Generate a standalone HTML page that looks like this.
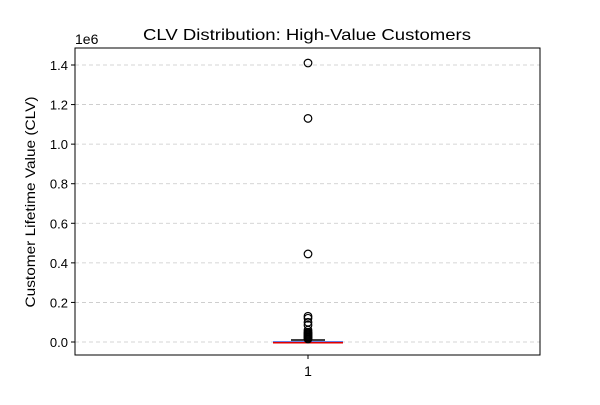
<!DOCTYPE html>
<html><head><meta charset="utf-8"><style>
body{margin:0;background:#fff;font-family:"Liberation Sans",sans-serif}
</style></head><body>
<svg width="600" height="400" xmlns="http://www.w3.org/2000/svg" font-family="Liberation Sans, sans-serif">
<rect width="600" height="400" fill="#fff"/>
<g id="grid"></g>
<g id="ticks"></g>
<g id="box"></g>
<rect x="75" y="48" width="465" height="307" fill="none" stroke="#000" stroke-width="1"/>
<line x1="308" y1="355" x2="308" y2="359" stroke="#000"/>
<text x="308" y="376" font-size="14" text-anchor="middle">1</text>
<text x="75" y="44" font-size="14">1e6</text>
<text x="307" y="40" font-size="16" text-anchor="middle" textLength="328" lengthAdjust="spacingAndGlyphs">CLV Distribution: High-Value Customers</text>
<text transform="translate(35,202) rotate(-90)" font-size="14" text-anchor="middle" textLength="211" lengthAdjust="spacingAndGlyphs">Customer Lifetime Value (CLV)</text>
<script>
const yTicks=[0,0.2,0.4,0.6,0.8,1.0,1.2,1.4];
const yTickLabels=["0.0","0.2","0.4","0.6","0.8","1.0","1.2","1.4"];
const boxStats=[0,0.0015,0.004,0.0015,0.01]; // whiskerLow,q1,q3,median,whiskerHigh (1e6)
const outliers=[1.41,1.13,0.445,0.13,0.12,0.10,0.085,0.06,0.05,0.045,0.04,0.035,0.03,0.025,0.02,0.015];
const NS="http://www.w3.org/2000/svg";
function y(v){return 342-v*(277/1.4);}
function mk(tag,attrs,parent){const e=document.createElementNS(NS,tag);for(const k in attrs)e.setAttribute(k,attrs[k]);parent.appendChild(e);return e;}
const grid=document.getElementById('grid'),ticks=document.getElementById('ticks'),box=document.getElementById('box');
yTicks.forEach((t,i)=>{
 const g=mk('line',{x1:75,x2:540,y1:y(t),y2:y(t),stroke:'#c8c8c8','stroke-dasharray':'4,3','stroke-width':0.8},grid);
 
 
 const tk=mk('line',{x1:71,x2:75,y1:y(t),y2:y(t),stroke:'#000'},ticks);
 
 
 const tx=mk('text',{x:68,y:y(t)+5,'font-size':13,'text-anchor':'end'},ticks);
 tx.textContent=yTickLabels[i];
 
 
});
const [wl,q1,q3,med,wh]=boxStats;
const w1=mk('line',{x1:308,x2:308,y1:y(q3),y2:y(wh),stroke:'#000'},box);


const cap=mk('line',{x1:291,x2:325,y1:y(wh),y2:y(wh),stroke:'#000','stroke-width':1.5},box);


const r=mk('rect',{x:273,width:70,y:y(q3),height:Math.max(1,y(q1)-y(q3)),fill:'#4060e0',stroke:'none'},box);


const m=mk('line',{x1:273,x2:343,y1:y(med)+1,y2:y(med)+1,stroke:'#e00000','stroke-width':1.5},box);


outliers.forEach(o=>{
 const c=mk('circle',{cx:308,cy:y(o),r:3.8,fill:'none',stroke:'#000','stroke-width':1.2},box);
 
 
});
</script>
</svg>
</body></html>
